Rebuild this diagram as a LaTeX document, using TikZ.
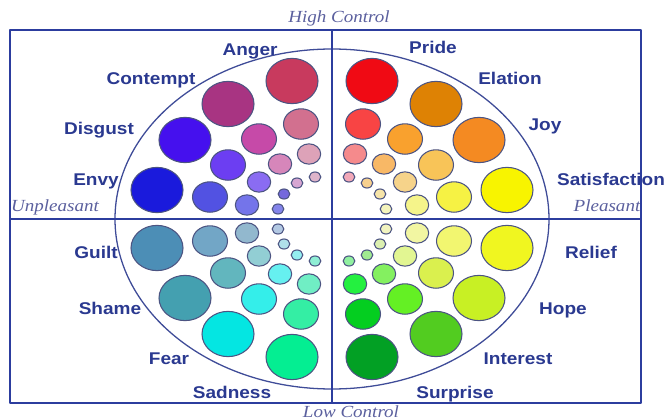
\documentclass[tikz,border=0pt]{standalone}
\usepackage{fontspec}
\newfontfamily\emofont[FakeStretch=1.12]{Liberation Sans}
\newfontfamily\axisfont[FakeStretch=1.12]{Liberation Serif}
\definecolor{frame}{HTML}{2C3D9E}
\definecolor{wheel}{HTML}{3F4C98}
\definecolor{lbl}{HTML}{2A3990}
\definecolor{axlbl}{HTML}{5B609E}
\definecolor{rim}{HTML}{4C5482}
\begin{document}
\begin{tikzpicture}[x=0.03cm,y=-0.03cm,line join=round,
	emo/.style={font=\emofont\bfseries\fontsize{14.5}{17}\selectfont,text=lbl,inner sep=0pt,anchor=base,yshift=-5pt},
	axis/.style={font=\axisfont\itshape\fontsize{14.5}{17}\selectfont,text=axlbl,inner sep=0pt,anchor=base,yshift=-5pt}]
	\useasboundingbox (0,0) rectangle (667,420);
	\path (332,219)coordinate(O)(10,30)coordinate(A)(641,403)coordinate(C);
	\def\dxs{{40,31,23,17,104,73,52,35,147,104,73,48,175,122,85,54}}
	\def\dys{{138,95,65,42,115,80,55,36,79,54,37,25,29,22,14,10}}
	\foreach \sx/\sy/\s/\ca/\cb/\cc/\cd in{
		1/1/1/F00A14/F84444/F58A8C/F2A8B8, 1/1/2/DE8204/F9A12E/F8B866/F7D08E,
		1/1/3/F48A22/F8C458/F6D38A/F6E4A8, 1/1/4/F8F400/F6F244/F5F48A/F4F4BC,
		-1/1/1/C83A5E/D2708F/DDA2B8/DEB4CA, -1/1/2/A83482/C64AA8/D686BA/D7A6D2,
		-1/1/3/4510EE/6C3EF2/8A6CF2/7468DC, -1/1/4/1A1ADC/5252E2/7474EA/8484EA,
		-1/-1/1/04EE92/34EEA4/70EEC4/8EEED4, -1/-1/2/04E6E2/34EEEA/66F0F0/94EEF0,
		-1/-1/3/44A0B0/62B6BE/92CED4/B0E0EA, -1/-1/4/4C8EB6/72A6C6/92B8CE/B2C8E2,
		1/-1/1/02A024/04CE20/24F040/90F0A0, 1/-1/2/52CC20/64F024/84F060/A0EA90,
		1/-1/3/C8F024/DAF04E/E2F692/DCF0B0, 1/-1/4/F0F620/F2F670/F2F6A2/F2F4C0}
	\foreach \k/\rad/\col in{0/26/\ca,1/17.5/\cb,2/11.7/\cc,3/5.8/\cd}{
		\pgfmathsetmacro\dx{\dxs[4*(\s-1)+\k]}
		\pgfmathsetmacro\dy{\dys[4*(\s-1)+\k]}
		\edef\tmp{\noexpand\definecolor{cur}{HTML}{\col}}\tmp
		\filldraw[fill=cur,draw=rim,line width=0.9pt]({332+(\sx)*\dx},{219-(\sy)*\dy})ellipse[x radius=\rad,y radius=0.87*\rad];
	}
	\draw[wheel,line width=1.1pt](O)ellipse[x radius=217,y radius=170];
	\foreach \n/\x/\y in{Anger/250/50,Contempt/151/79,Disgust/99/129,Envy/96/180,Pride/433/48,Elation/510/79,Joy/545/125,Satisfaction/611/180,Guilt/96/253,Shame/110/309,Fear/169/359,Sadness/232/393,Relief/591/253,Hope/563/309,Interest/518/359,Surprise/455/393}
	\node[emo](\n)at(\x,\y){\n};
	\node[axis](hc)at(339,17){High Control};
	\node[axis](lc)at(351,412){Low Control};
	\node[axis](unp)at(55,206){Unpleasant};
	\node[axis](pls)at(607,206){Pleasant};
	\draw[frame,line width=2pt](A)rectangle(C);
	\draw[frame,line width=2pt](O|-A)--(O|-C)(A|-O)--(C|-O);
\end{tikzpicture}
\end{document}
